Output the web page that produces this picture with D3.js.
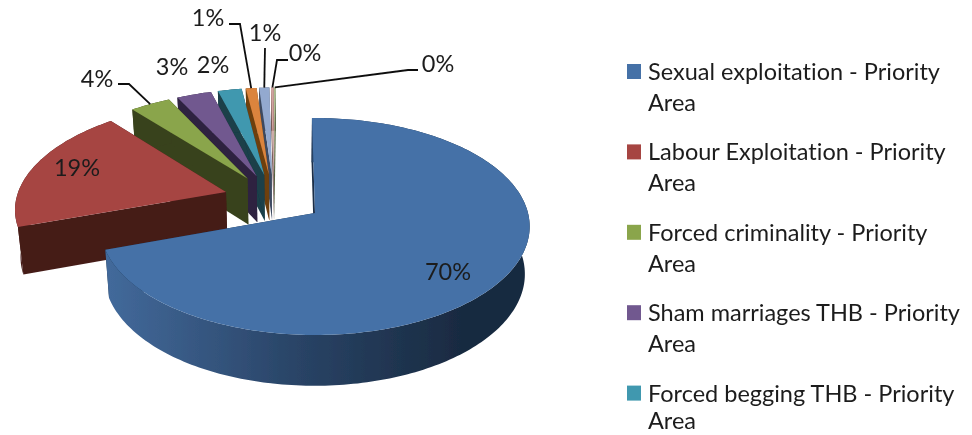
<!DOCTYPE html>
<html lang="en">
<head>
    <meta charset="utf-8">
    <title>Priority areas</title>
    <script src="https://d3js.org/d3.v7.min.js"></script>
    <style>
        body { margin: 0; background: #fff; }
        text { font-family: Lato, "Noto Sans", sans-serif; fill: #1c1c1c; font-variant-ligatures: none; }
    </style>
</head>

<body>
<svg width="972" height="435"></svg>
<script>
    // values
    var categories = ["Sexual exploitation - Priority Area", "Labour Exploitation - Priority Area",
        "Forced criminality - Priority Area", "Sham marriages THB - Priority Area",
        "Forced begging THB - Priority Area"];
    var values = [69.9, 19.2, 3.55, 3.05, 2.1, 0.95, 0.9, 0.25, 0.1];
    var labels = ["70%", "19%", "4%", "3%", "2%", "1%", "1%", "0%", "0%"];
    var topColors = ["#4471a7", "#a64543", "#8aa54b", "#71588f", "#4198af", "#db843d", "#93a9cf", "#d1a39f", "#b9cd96"];
    var sideColors = ["#1b2e47", "#451b18", "#39421c", "#2e2140", "#1a3f48", "#6e3f10", "#3d4a60", "#6a4a48", "#55603f"];

    // label placement: [x, y] of the text centre, then the leader line if it has one
    var labelLayout = [
        {at: [448, 272]},
        {at: [77, 168]},
        {at: [97, 79], elbow: [[118, 84], [129, 84]]},
        {at: [172, 67]},
        {at: [213, 65]},
        {at: [208, 18], elbow: [[229, 24], [240, 24]]},
        {at: [265, 33], elbow: [[265, 48]]},
        {at: [305, 53], elbow: [[288, 60], [277, 60]]},
        {at: [438, 64], elbow: [[418, 70], [408, 70]]}
    ];

    var svg = d3.select("svg");

    // tilted disc: a, b are the radii, k the perspective, (px, py) where the blue point lands
    var a = 213, b = 106.8, k = 0.1244, px = 315, py = 213;
    var explode = 0.24;

    var pie = d3.pie().sort(null).startAngle(-0.016).endAngle(2 * Math.PI - 0.016);
    var arcs = pie(values);
    var mid0 = (arcs[0].startAngle + arcs[0].endAngle) / 2;

    function project(u, v) {
        var w = 1 + k * v;
        return [px + a * u / w, py - b * v / w];
    }
    // point of a slice at radius r and angle t, moved out along the slice's middle
    function slicePoint(d, r, t) {
        var m = (d.startAngle + d.endAngle) / 2;
        var u = explode * (Math.sin(m) - Math.sin(mid0)) + r * Math.sin(t);
        var v = explode * (Math.cos(m) - Math.cos(mid0)) + r * Math.cos(t);
        return project(u, v);
    }
    // same point on the lower face of the disc
    function lower(p) {
        return [290 + (p[0] - 290) * 0.98, p[1] + 46 + (p[1] - 175) * 0.03];
    }
    function arcPoints(d) {
        var n = Math.max(2, Math.ceil((d.endAngle - d.startAngle) / 0.02));
        return d3.range(n + 1).map(function(i) {
            return slicePoint(d, 1, d.startAngle + (d.endAngle - d.startAngle) * i / n);
        });
    }

    var line = d3.line().curve(d3.curveLinearClosed);

    var defs = svg.append("defs");
    var grad = defs.append("linearGradient")
        .attr("id", "wall")
        .attr("gradientUnits", "userSpaceOnUse")
        .attr("x1", 110).attr("x2", 470).attr("y1", 0).attr("y2", 0);
    grad.append("stop").attr("offset", 0).attr("stop-color", "#42699a");
    grad.append("stop").attr("offset", 0.5).attr("stop-color", "#2a4568");
    grad.append("stop").attr("offset", 1).attr("stop-color", "#18293f");

    // the source picture is a soft screenshot
    defs.append("filter").attr("id", "soft")
        .attr("filterUnits", "userSpaceOnUse")
        .attr("x", 0).attr("y", 0).attr("width", 972).attr("height", 435)
        .append("feGaussianBlur").attr("stdDeviation", 0.45);

    var root = svg.append("g").attr("filter", "url(#soft)");

    // back slices first, blue last
    var order = d3.range(arcs.length).reverse();

    order.forEach(function(i) {
        var d = arcs[i];
        var apex = slicePoint(d, 0, 0);
        var pts = arcPoints(d);
        var slice = root.append("g");

        [pts[0], pts[pts.length - 1]].forEach(function(p) {
            slice.append("path")
                .attr("d", line([apex, p, lower(p), lower(apex)]))
                .attr("fill", sideColors[i]);
        });
        slice.append("path")
            .attr("d", line(pts.concat(pts.slice().reverse().map(lower))))
            .attr("fill", i == 0 ? "url(#wall)" : sideColors[i]);
        slice.append("path")
            .attr("d", line([apex].concat(pts)))
            .attr("fill", topColors[i]);
    });

    // leader lines start at the middle of the slice's rim
    var leader = d3.line();
    labelLayout.forEach(function(l, i) {
        if (!l.elbow) return;
        var d = arcs[i];
        var rim = slicePoint(d, 1, (d.startAngle + d.endAngle) / 2);
        root.append("path")
            .attr("d", leader(l.elbow.concat([rim])))
            .attr("fill", "none")
            .attr("stroke", "#111")
            .attr("stroke-width", 1.8);
    });

    root.selectAll(".pct")
        .data(labels)
        .enter()
        .append("text")
        .attr("class", "pct")
        .attr("x", function(d, i) { return labelLayout[i].at[0]; })
        .attr("y", function(d, i) { return labelLayout[i].at[1]; })
        .attr("dy", "0.35em")
        .attr("text-anchor", "middle")
        .attr("font-size", 23.5)
        .text(function(d) { return d; });

    // legend, wrapped before the last word like the original
    var legendY = d3.scaleLinear().domain([0, 1]).range([64, 144.4]);
    var legend = root.selectAll(".legend")
        .data(categories)
        .enter()
        .append("g")
        .attr("class", "legend")
        .attr("transform", function(d, i) { return "translate(627," + legendY(i) + ")"; });

    legend.append("rect")
        .attr("width", 14)
        .attr("height", 15)
        .attr("fill", function(d, i) { return topColors[i]; });

    legend.append("text")
        .attr("x", 21)
        .attr("y", 16)
        .attr("font-size", 23.5)
        .text(function(d) { return d.slice(0, d.lastIndexOf(" ")); });

    // second line stays inside the picture on the last row
    legend.append("text")
        .attr("x", 21)
        .attr("y", function(d, i) { return Math.min(47, 429.5 - legendY(i)); })
        .attr("font-size", 23.5)
        .text(function(d) { return d.slice(d.lastIndexOf(" ") + 1); });
</script>
</body>

</html>
